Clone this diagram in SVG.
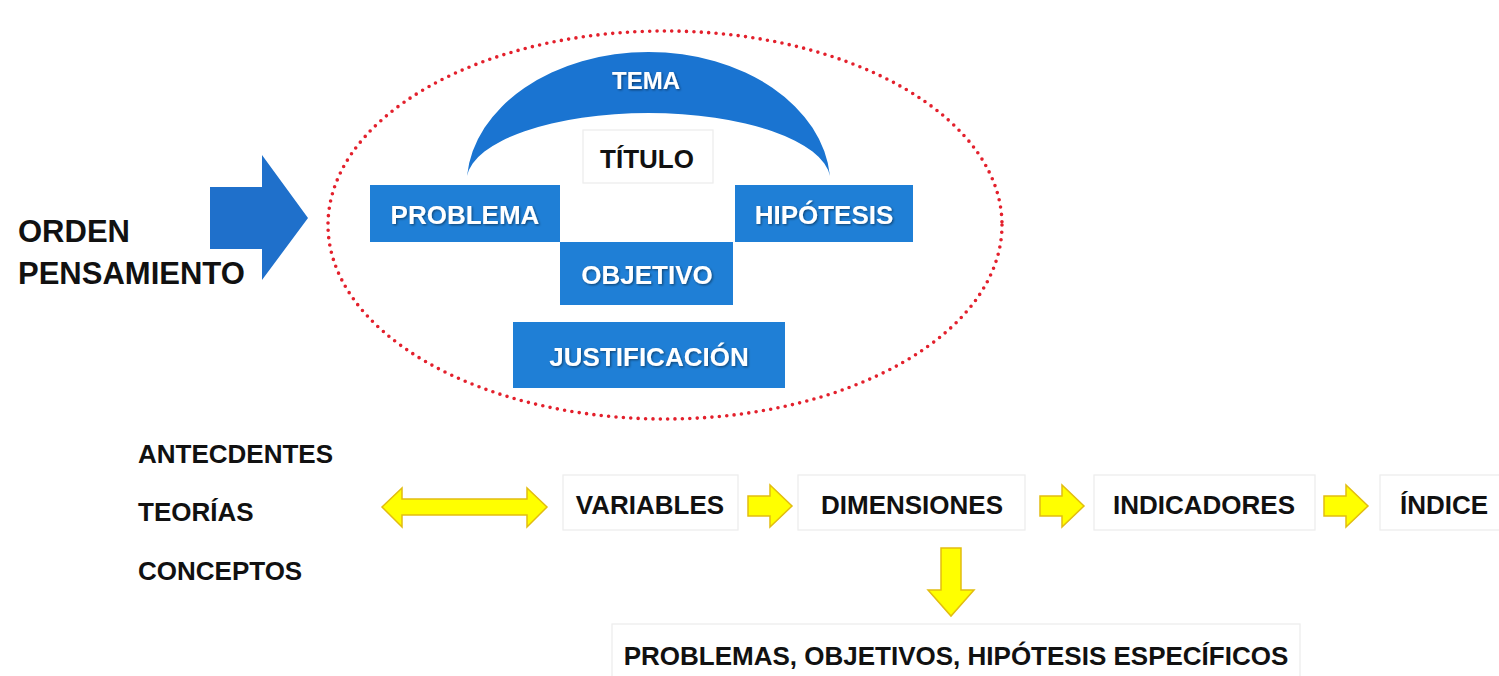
<svg xmlns="http://www.w3.org/2000/svg" width="1499" height="676" viewBox="0 0 1499 676">
  <defs>
    <filter id="sh" x="-10%" y="-30%" width="120%" height="160%">
      <feDropShadow dx="1.2" dy="1.2" stdDeviation="0.8" flood-color="#000" flood-opacity="0.45"/>
    </filter>
    <style>
      text { font-family: "Liberation Sans", Arial, sans-serif; font-weight: bold; }
      .blue { fill: #1f7fd6; }
      .wt { fill: #ffffff; font-size: 26px; text-anchor: middle; filter: url(#sh); }
      .bt { fill: #111111; font-size: 26px; }
      .bc { text-anchor: middle; }
      .wbox { fill: #ffffff; stroke: #ececec; stroke-width: 1.2; }
      .yel { fill: #ffff00; stroke: #e2bd10; stroke-width: 1.5; stroke-linejoin: miter; }
      .big { fill: #111111; font-size: 31px; }
    </style>
  </defs>
  <rect width="1499" height="676" fill="#ffffff"/>

  <g id="ellipse">
    <ellipse cx="665" cy="225" rx="337" ry="194" fill="none" stroke="#e3202c" stroke-width="3.6" stroke-linecap="round" stroke-dasharray="0 7.4"/>
  </g>

  <g id="orden">
    <text class="big" x="18" y="242">ORDEN</text>
    <text class="big" x="18" y="284">PENSAMIENTO</text>
  </g>

  <g id="tema">
    <path d="M467,176 A182,134 0 0 1 830,176 A182,68 0 0 0 467,176 Z" fill="#1a74d1"/>
    <text class="wt" x="646" y="89" style="font-size:24px">TEMA</text>
  </g>

  <g id="titulo">
    <rect class="wbox" x="583" y="130" width="130" height="53"/>
    <text class="bt bc" x="647" y="168">TÍTULO</text>
  </g>

  <g id="problema">
    <rect class="blue" x="370" y="185" width="190" height="57"/>
    <text class="wt" x="465" y="224">PROBLEMA</text>
  </g>

  <g id="hipotesis">
    <rect class="blue" x="735" y="185" width="178" height="57"/>
    <text class="wt" x="824" y="224">HIPÓTESIS</text>
  </g>

  <g id="objetivo">
    <rect class="blue" x="560" y="242" width="173" height="63"/>
    <text class="wt" x="647" y="284">OBJETIVO</text>
  </g>

  <g id="justificacion">
    <rect class="blue" x="513" y="322" width="272" height="66"/>
    <text class="wt" x="649" y="366">JUSTIFICACIÓN</text>
  </g>

  <g id="antecedentes">
    <text class="bt" x="138" y="463">ANTECDENTES</text>
    <text class="bt" x="138" y="521">TEORÍAS</text>
    <text class="bt" x="138" y="580">CONCEPTOS</text>
  </g>

  <g id="variables">
    <rect class="wbox" x="563" y="475" width="175" height="55"/>
    <text class="bt bc" x="650" y="514">VARIABLES</text>
  </g>

  <g id="dimensiones">
    <rect class="wbox" x="798" y="475" width="227" height="55"/>
    <text class="bt bc" x="912" y="514">DIMENSIONES</text>
  </g>

  <g id="indicadores">
    <rect class="wbox" x="1094" y="475" width="221" height="55"/>
    <text class="bt bc" x="1204" y="514">INDICADORES</text>
  </g>

  <g id="indice">
    <rect class="wbox" x="1380" y="475" width="125" height="55"/>
    <text class="bt bc" x="1444" y="514">ÍNDICE</text>
  </g>

  <g id="especificos">
    <rect class="wbox" x="612" y="624" width="688" height="60"/>
    <text class="bt bc" x="956" y="665">PROBLEMAS, OBJETIVOS, HIPÓTESIS ESPECÍFICOS</text>
  </g>

  <g id="connectors">
    <path d="M210,187 H262 V155 L308,218 L262,280 V249 H210 Z" fill="#1f70cb"/>
    <polygon class="yel" points="382,507 402,488 402,499 527,499 527,488 547,507 527,527 527,515 402,515 402,527"/>
    <path class="yel" d="M748,496 H770 V485 L792,506 L770,527 V516 H748 Z"/>
    <path class="yel" d="M1040,496 H1062 V485 L1084,506 L1062,527 V516 H1040 Z"/>
    <path class="yel" d="M1324,496 H1346 V485 L1368,506 L1346,527 V516 H1324 Z"/>
    <path class="yel" d="M941,548 H961 V590 H974 L951,616 L928,590 H941 Z"/>
  </g>
</svg>
